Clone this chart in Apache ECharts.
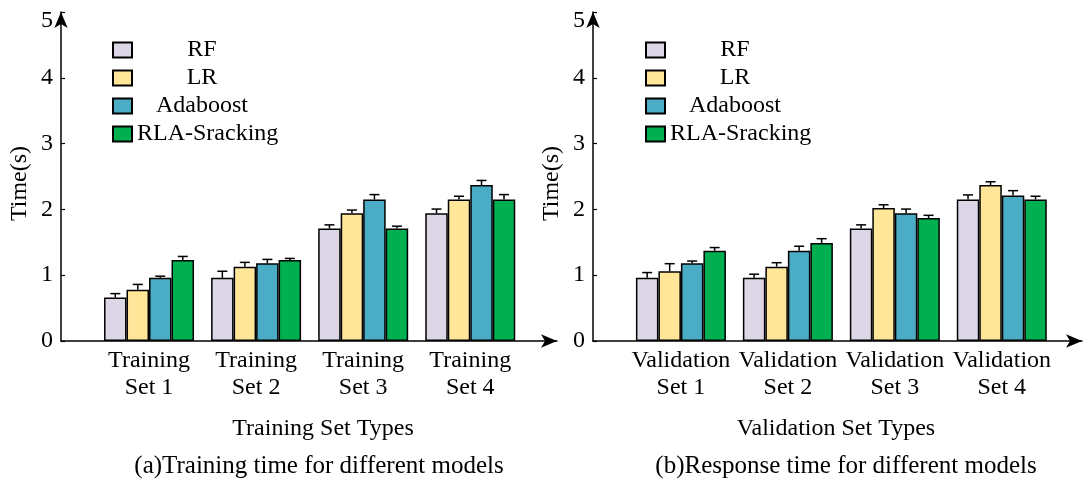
<!DOCTYPE html>
<html>
<head>
<meta charset="utf-8">
<script src="https://cdn.jsdelivr.net/npm/echarts@6/dist/echarts.min.js"></script>
<style>html,body{margin:0;padding:0;background:#fff;}#c{width:1088px;height:480px;}</style>
</head>
<body>
<div id="c"></div>
<script>
// ---- data ----
const models = ['RF', 'LR', 'Adaboost', 'RLA-Sracking'];
const trainCategories = ['Training\nSet 1', 'Training\nSet 2', 'Training\nSet 3', 'Training\nSet 4'];
const valCategories = ['Validation\nSet 1', 'Validation\nSet 2', 'Validation\nSet 3', 'Validation\nSet 4'];
const yTicks = [0, 1, 2, 3, 4, 5];

const trainRF  = [0.66, 0.96, 1.71, 1.94];
const trainLR  = [0.78, 1.13, 1.94, 2.15];
const trainAda = [0.96, 1.18, 2.15, 2.37];
const trainRLA = [1.23, 1.23, 1.71, 2.15];
const trainErrRF  = [0.06, 0.10, 0.055, 0.065];
const trainErrLR  = [0.08, 0.065, 0.05, 0.05];
const trainErrAda = [0.025, 0.06, 0.075, 0.07];
const trainErrRLA = [0.055, 0.025, 0.035, 0.075];

const valRF  = [0.96, 0.96, 1.71, 2.15];
const valLR  = [1.06, 1.13, 2.02, 2.37];
const valAda = [1.18, 1.37, 1.94, 2.21];
const valRLA = [1.37, 1.49, 1.87, 2.15];
const valErrRF  = [0.08, 0.055, 0.055, 0.07];
const valErrLR  = [0.115, 0.06, 0.05, 0.05];
const valErrAda = [0.035, 0.07, 0.065, 0.075];
const valErrRLA = [0.05, 0.065, 0.04, 0.05];

// ---- style ----
const colors = ['#DCD6E6', '#FFE699', '#4BACC6', '#00B050'];
const FONT = "'Liberation Serif', 'Times New Roman', serif";
const FS = 24;
const BAR_W = 22.5;

const trainVals = [trainRF, trainLR, trainAda, trainRLA];
const trainErrs = [trainErrRF, trainErrLR, trainErrAda, trainErrRLA];
const valVals = [valRF, valLR, valAda, valRLA];
const valErrs = [valErrRF, valErrLR, valErrAda, valErrRLA];

function barSeries(vals, axisIdx) {
  return vals.map((arr, i) => ({
    name: models[i],
    type: 'bar',
    xAxisIndex: axisIdx, yAxisIndex: axisIdx,
    barWidth: BAR_W, barGap: '0%',
    itemStyle: { color: colors[i], borderColor: '#000', borderWidth: 1.5 },
    data: arr.map((v, j) => [j + 1, v]),
    z: 2
  }));
}
function errSeries(vals, errs, axisIdx) {
  const data = [];
  vals.forEach((arr, i) => arr.forEach((v, j) => data.push([j + 1, i, v, errs[i][j]])));
  return {
    type: 'custom',
    xAxisIndex: axisIdx, yAxisIndex: axisIdx,
    encode: { x: 0, y: 2 },
    z: 5,
    silent: true,
    renderItem: function (params, api) {
      const x = api.value(0), s = api.value(1), v = api.value(2), e = api.value(3);
      const p0 = api.coord([x, v]);
      const p1 = api.coord([x, v + e]);
      const off = (s - 1.5) * BAR_W;
      const cx = p0[0] + off;
      const st = { stroke: '#000', lineWidth: 1.5 };
      return {
        type: 'group',
        children: [
          { type: 'line', shape: { x1: cx, y1: p0[1], x2: cx, y2: p1[1] }, style: st },
          { type: 'line', shape: { x1: cx - 5, y1: p1[1], x2: cx + 5, y2: p1[1] }, style: st }
        ]
      };
    },
    data: data
  };
}

function xAxis(idx, cats, max) {
  return {
    type: 'value', gridIndex: idx, min: 0.178, max: max,
    axisLine: { show: true, lineStyle: { color: '#000', width: 1.5 }, symbol: ['none', 'arrow'], symbolSize: [10, 16] },
    axisTick: { show: false },
    splitLine: { show: false },
    axisLabel: {
      customValues: [1, 2, 3, 4],
      formatter: v => cats[Math.round(v) - 1] || '',
      color: '#000', fontFamily: FONT, fontSize: FS, lineHeight: 27, margin: 6
    }
  };
}
function yAxis(idx) {
  return {
    type: 'value', gridIndex: idx, min: yTicks[0], max: yTicks[yTicks.length - 1], interval: 1,
    name: 'Time(s)', nameLocation: 'middle', nameGap: 29,
    nameTextStyle: { color: '#000', fontFamily: FONT, fontSize: FS, padding: [0, 14, 0, 0] },
    axisLine: { show: true, lineStyle: { color: '#000', width: 1.5 }, symbol: ['none', 'arrow'], symbolSize: [10, 16] },
    axisTick: { show: true, inside: true, length: 4, lineStyle: { color: '#000', width: 1.2 } },
    splitLine: { show: false },
    axisLabel: {
      color: '#000', fontFamily: FONT, fontSize: FS, margin: 8,
      formatter: v => v === yTicks[yTicks.length - 1] ? '{t|' + v + '}' : String(v),
      rich: { t: { padding: [18, 0, 0, 0], fontFamily: FONT, fontSize: FS, color: '#000' } }
    }
  };
}
function legend(left) {
  return {
    left: left, top: 38, orient: 'vertical', padding: 0,
    icon: 'rect',
    itemWidth: 19, itemHeight: 15, itemGap: 4,
    selectedMode: false,
    data: models,
    formatter: name => name === 'RLA-Sracking' ? name : '{c|' + name + '}',
    textStyle: {
      color: '#000', fontFamily: FONT, fontSize: FS, lineHeight: 24,
      rich: { c: { width: 130, align: 'center', fontFamily: FONT, fontSize: FS, color: '#000', lineHeight: 24 } }
    }
  };
}

const chart = echarts.init(document.getElementById('c'), null, { renderer: 'canvas' });
chart.setOption({
  animation: false,
  backgroundColor: '#fff',
  grid: [
    { left: 61, right: 531, top: 12, bottom: 139 },
    { left: 593, right: 6, top: 12, bottom: 139 }
  ],
  xAxis: [xAxis(0, trainCategories, 4.81), xAxis(1, valCategories, 4.75)],
  yAxis: [yAxis(0), yAxis(1)],
  legend: [legend(112), legend(645)],
  series: [].concat(
    barSeries(trainVals, 0), [errSeries(trainVals, trainErrs, 0)],
    barSeries(valVals, 1), [errSeries(valVals, valErrs, 1)]
  ),
  graphic: [
    { type: 'text', x: 323, y: 429, style: { text: 'Training Set Types', textAlign: 'center', textVerticalAlign: 'middle', fontFamily: FONT, fontSize: FS, fill: '#000' } },
    { type: 'text', x: 319, y: 466, style: { text: '(a)Training time for different models', textAlign: 'center', textVerticalAlign: 'middle', fontFamily: FONT, fontSize: 25, fill: '#000' } },
    { type: 'text', x: 836, y: 429, style: { text: 'Validation Set Types', textAlign: 'center', textVerticalAlign: 'middle', fontFamily: FONT, fontSize: FS, fill: '#000' } },
    { type: 'text', x: 846, y: 466, style: { text: '(b)Response time for different models', textAlign: 'center', textVerticalAlign: 'middle', fontFamily: FONT, fontSize: 25, fill: '#000' } }
  ]
});
</script>
</body>
</html>
